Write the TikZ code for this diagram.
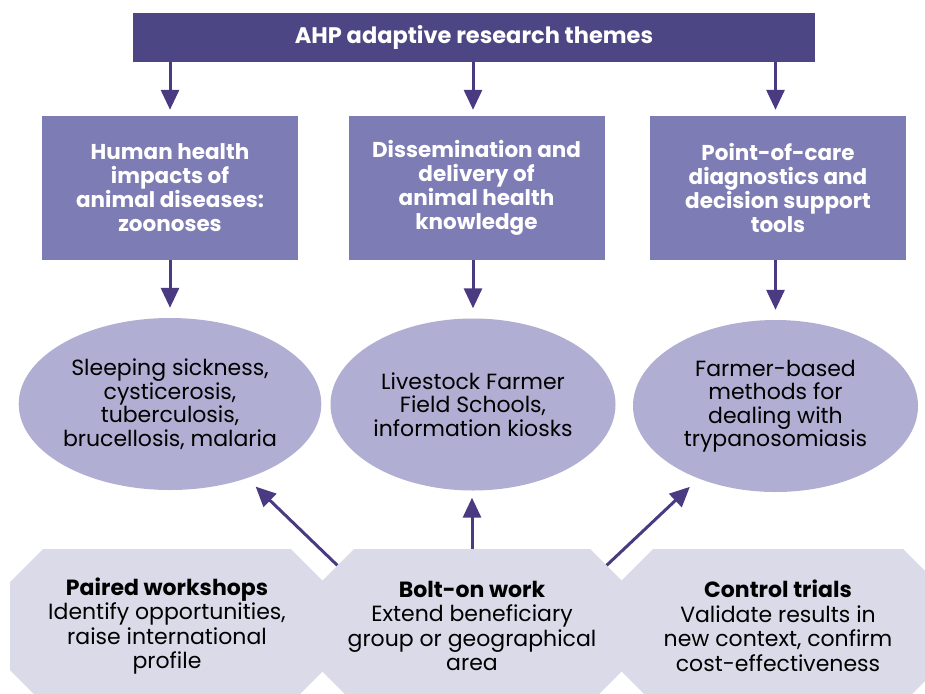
\documentclass[tikz,border=0pt]{standalone}
\usepackage{fontspec}
\setmainfont{Poppins}
\usetikzlibrary{arrows.meta}
\usetikzlibrary{shapes.geometric}

\definecolor{barpurple}{HTML}{4C4784}
\definecolor{boxpurple}{HTML}{7E7CB4}
\definecolor{ovalpurple}{HTML}{B0AFD3}
\definecolor{octgrey}{HTML}{DADAE8}
\definecolor{arrowpurple}{HTML}{4A3A82}

\begin{document}
\begin{tikzpicture}[x=1pt,y=-1pt,>/.tip={Triangle[width=18pt,length=20pt]},
	theme/.style={fill=boxpurple,text=white,align=center,inner sep=0pt,
		minimum width=256pt,minimum height=144pt,font=\bfseries\fontsize{21.5}{24}\selectfont},
	topic/.style={ellipse,fill=ovalpurple,align=center,inner sep=0pt,
		minimum width=285pt,minimum height=172pt,font=\fontsize{22}{23.5}\selectfont},
	activity/.style={align=center,inner sep=0pt,minimum height=154pt,font=\fontsize{22}{24.5}\selectfont},
	link/.style={->,draw=arrowpurple,line width=3pt}]
	\useasboundingbox (0,0) rectangle (925,693);
	\clip (0,0) rectangle (925,693);
	% octagons along the bottom (they run off the page)
	\foreach \cx/\w in {167/314,778/316,472/302}
		\fill[octgrey] (\cx-\w/2+33,549) -- (\cx+\w/2-33,549) -- (\cx+\w/2,582) -- (\cx+\w/2,670)
			-- (\cx+\w/2-33,703) -- (\cx-\w/2+33,703) -- (\cx-\w/2,670) -- (\cx-\w/2,582) -- cycle;
	\draw (167,626) node(pair) [activity,minimum width=314pt] {\textbf{Paired workshops}\\Identify opportunities,\\raise international\\profile};
	\draw (472,626) node(bolt) [activity,minimum width=302pt] {\textbf{Bolt-on work}\\Extend beneficiary\\group or geographical\\area};
	\draw (778,626) node(ctrl) [activity,minimum width=316pt] {\textbf{Control trials}\\Validate results in\\new context, confirm\\cost-effectiveness};
	% header and themes
	\draw (474,37.5) node(ahp) [fill=barpurple,text=white,minimum width=682pt,minimum height=49pt,
		font=\bfseries\fontsize{22.5}{24}\selectfont] {AHP adaptive research themes};
	\draw (170,188) node(T1) [theme] {Human health\\impacts of\\animal diseases:\\zoonoses};
	\draw (476.5,188) node(T2) [theme] {Dissemination and\\delivery of\\animal health\\knowledge};
	\draw (778,188) node(T3) [theme] {Point-of-care\\diagnostics and\\decision support\\tools};
	\draw (170,404) node(D1) [topic] {Sleeping sickness,\\cysticerosis,\\tuberculosis,\\brucellosis, malaria};
	\draw (473,404.5) node(D2) [topic] {Livestock Farmer\\Field Schools,\\information kiosks};
	\draw (775.5,406) node(D3) [topic] {Farmer-based\\methods for\\dealing with\\trypanosomiasis};
	\draw[link,shorten >=6pt] (D1 |- ahp.south) -- (D1 |- T1.north);
	\draw[link,shorten >=6pt] (D2 |- ahp.south) -- (D2 |- T2.north);
	\draw[link,shorten >=6pt] (D3 |- ahp.south) -- (D3 |- T3.north);
	\draw[link,shorten >=10pt] (D1 |- T1.south) -- (D1.north);
	\draw[link,shorten >=10pt] (D2 |- T2.south) -- (D2.north);
	\draw[link,shorten >=10pt] (D3 |- T3.south) -- (D3.north);
	\draw[link,shorten >=12pt] ([shift={(16.5,16.5)}]bolt.north west) -- (D1);
	\draw[link,shorten >=7pt] (bolt.north) -- (bolt.north |- D2.south);
	\draw[link,shorten >=12pt] ([shift={(-16.5,16.5)}]bolt.north east) -- (D3);
\end{tikzpicture}
\end{document}
